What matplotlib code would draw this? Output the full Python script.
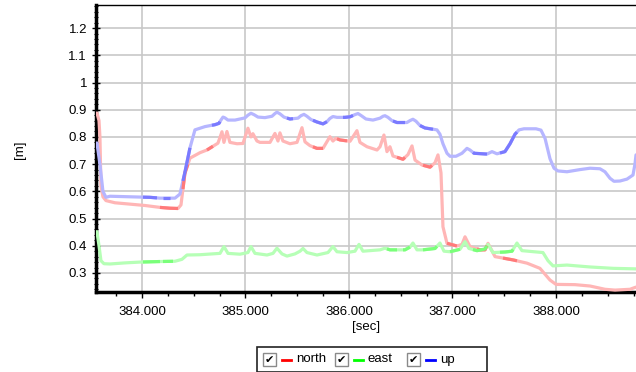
import matplotlib
matplotlib.use("Agg")
import numpy as np
import matplotlib.pyplot as plt
from matplotlib.ticker import MultipleLocator, FormatStrFormatter
from matplotlib.patches import Rectangle
from matplotlib.lines import Line2D

plt.rcParams['font.family'] = ['Liberation Sans', 'DejaVu Sans']

# ---- data (time [sec], value [m]) ----
north_t = [383.565, 383.585, 383.594, 383.604, 383.623, 383.652, 383.739, 383.884, 384.029, 384.174,
           384.271, 384.348, 384.377, 384.415, 384.464, 384.560, 384.628, 384.734, 384.773, 384.792,
           384.821, 384.850, 384.918, 384.976, 385.024, 385.053, 385.072, 385.111, 385.140, 385.237,
           385.285, 385.314, 385.333, 385.362, 385.430, 385.498, 385.546, 385.575, 385.623, 385.691,
           385.749, 385.816, 385.845, 385.874, 385.913, 386.010, 386.077, 386.106, 386.174, 386.271,
           386.300, 386.338, 386.367, 386.396, 386.425, 386.522, 386.570, 386.609, 386.638, 386.705,
           386.783, 386.831, 386.860, 386.889, 386.908, 386.947, 387.043, 387.092, 387.121, 387.169,
           387.266, 387.314, 387.343, 387.411, 387.585, 387.720, 387.845, 387.942, 388.000, 388.184,
           388.329, 388.473, 388.570, 388.715, 388.773]
north_v = [0.888, 0.860, 0.800, 0.620, 0.580, 0.566, 0.558, 0.553, 0.548, 0.541,
           0.538, 0.537, 0.550, 0.667, 0.722, 0.742, 0.752, 0.777, 0.819, 0.780,
           0.820, 0.780, 0.775, 0.776, 0.832, 0.800, 0.812, 0.785, 0.780, 0.780,
           0.813, 0.785, 0.815, 0.785, 0.775, 0.780, 0.834, 0.782, 0.768, 0.758,
           0.758, 0.801, 0.785, 0.795, 0.789, 0.784, 0.823, 0.780, 0.764, 0.752,
           0.764, 0.807, 0.746, 0.764, 0.730, 0.718, 0.735, 0.767, 0.715, 0.697,
           0.689, 0.705, 0.734, 0.668, 0.470, 0.409, 0.399, 0.405, 0.433, 0.397,
           0.385, 0.385, 0.409, 0.360, 0.348, 0.336, 0.317, 0.274, 0.258, 0.257,
           0.252, 0.240, 0.237, 0.240, 0.248]

east_t = [383.565, 383.585, 383.604, 383.633, 383.691, 383.836, 383.981, 384.174, 384.319, 384.386,
          384.435, 384.560, 384.754, 384.792, 384.831, 384.947, 385.024, 385.053, 385.092, 385.208,
          385.266, 385.304, 385.353, 385.401, 385.478, 385.527, 385.556, 385.594, 385.691, 385.797,
          385.845, 385.884, 385.981, 386.058, 386.097, 386.135, 386.300, 386.348, 386.396, 386.541,
          386.589, 386.618, 386.657, 386.715, 386.831, 386.879, 386.918, 386.976, 387.072, 387.121,
          387.159, 387.237, 387.314, 387.343, 387.391, 387.507, 387.575, 387.623, 387.671, 387.874,
          387.923, 387.971, 388.106, 388.329, 388.551, 388.773]
east_v = [0.452, 0.400, 0.345, 0.334, 0.333, 0.337, 0.340, 0.342, 0.343, 0.350,
          0.366, 0.367, 0.372, 0.397, 0.372, 0.369, 0.375, 0.397, 0.372, 0.366,
          0.372, 0.391, 0.370, 0.362, 0.370, 0.380, 0.390, 0.375, 0.366, 0.375,
          0.397, 0.378, 0.375, 0.380, 0.405, 0.380, 0.385, 0.391, 0.385, 0.385,
          0.395, 0.410, 0.385, 0.385, 0.390, 0.410, 0.380, 0.378, 0.387, 0.415,
          0.390, 0.382, 0.388, 0.405, 0.375, 0.377, 0.380, 0.410, 0.382, 0.375,
          0.345, 0.326, 0.329, 0.322, 0.317, 0.315]

up_t = [383.565, 383.594, 383.623, 383.652, 383.691, 383.884, 384.077, 384.174, 384.319, 384.367,
        384.415, 384.464, 384.512, 384.609, 384.705, 384.744, 384.763, 384.783, 384.802, 384.831,
        384.899, 384.995, 385.024, 385.053, 385.082, 385.121, 385.188, 385.256, 385.285, 385.304,
        385.333, 385.372, 385.430, 385.507, 385.536, 385.565, 385.594, 385.633, 385.691, 385.749,
        385.787, 385.816, 385.845, 385.884, 385.961, 386.010, 386.058, 386.087, 386.116, 386.164,
        386.232, 386.300, 386.329, 386.348, 386.377, 386.415, 386.464, 386.560, 386.589, 386.618,
        386.647, 386.686, 386.734, 386.850, 386.879, 386.908, 386.947, 386.976, 387.034, 387.092,
        387.140, 387.169, 387.208, 387.333, 387.382, 387.430, 387.507, 387.556, 387.604, 387.643,
        387.691, 387.807, 387.855, 387.894, 387.942, 387.981, 388.019, 388.106, 388.232, 388.329,
        388.425, 388.473, 388.522, 388.560, 388.618, 388.686, 388.744, 388.763, 388.773]
up_v = [0.778, 0.700, 0.600, 0.578, 0.582, 0.580, 0.578, 0.575, 0.575, 0.590,
        0.670, 0.760, 0.826, 0.838, 0.845, 0.850, 0.862, 0.873, 0.870, 0.862,
        0.862, 0.870, 0.880, 0.887, 0.882, 0.873, 0.871, 0.876, 0.886, 0.891,
        0.885, 0.873, 0.866, 0.869, 0.878, 0.883, 0.876, 0.864, 0.855, 0.848,
        0.856, 0.868, 0.875, 0.872, 0.872, 0.874, 0.882, 0.886, 0.879, 0.866,
        0.862, 0.869, 0.876, 0.878, 0.872, 0.860, 0.853, 0.853, 0.860, 0.865,
        0.858, 0.842, 0.833, 0.826, 0.810, 0.775, 0.740, 0.729, 0.729, 0.740,
        0.758, 0.752, 0.740, 0.737, 0.746, 0.738, 0.746, 0.775, 0.810, 0.826,
        0.830, 0.830, 0.825, 0.795, 0.720, 0.685, 0.675, 0.672, 0.680, 0.685,
        0.683, 0.672, 0.648, 0.637, 0.638, 0.645, 0.660, 0.700, 0.734]

# time spans where each trace is drawn in a stronger shade
north_dark = [(384.174, 384.348), (384.396, 384.444), (384.628, 384.686), (385.652, 385.749),
              (385.884, 385.981), (386.464, 386.541), (386.715, 386.802), (386.947, 387.043),
              (387.237, 387.333), (387.488, 387.623)]
east_dark = [(384.010, 384.174), (384.203, 384.300), (386.367, 386.464), (386.522, 386.589),
             (386.715, 386.850), (386.976, 387.072), (387.198, 387.333), (387.459, 387.585)]
up_dark = [(384.010, 384.145), (384.203, 384.271), (384.396, 384.464), (384.676, 384.754),
           (385.401, 385.459), (385.652, 385.787), (385.942, 386.039), (386.425, 386.541),
           (386.686, 386.812), (387.198, 387.333), (387.459, 387.623)]

series_names = ['north', 'east', 'up']
series_colors = ['#ff0000', '#00ff00', '#0000ff']
pale_colors = ['#ffb6b6', '#b6ffb6', '#b6b6ff']
dark_colors = ['#ff7a7a', '#7aff7a', '#7a7aff']

x_range = (383.556, 388.773)
y_range = (0.23, 1.285)

fig = plt.figure(figsize=(6.36, 3.72), dpi=100)
ax = fig.add_axes([96 / 636, 1 - 292 / 372, 1 - 96 / 636, 287 / 372])

data = [(north_t, north_v, north_dark), (east_t, east_v, east_dark), (up_t, up_v, up_dark)]
for (t, v, dark), c, dc in zip(data, pale_colors, dark_colors):
    ax.plot(t, v, color=c, lw=2.3, solid_joinstyle='round', solid_capstyle='round', zorder=3)
    for a, b in dark:
        mask = [(a <= ti <= b) for ti in t]
        tt = [a] + [ti for ti, m in zip(t, mask) if m] + [b]
        vv = list(np.interp(tt, t, v))
        ax.plot(tt, vv, color=dc, lw=2.3, solid_capstyle='butt', solid_joinstyle='round', zorder=4)

ax.set_xlim(*x_range)
ax.set_ylim(*y_range)
ax.xaxis.set_major_locator(MultipleLocator(1.0))
ax.xaxis.set_minor_locator(MultipleLocator(0.25))
ax.yaxis.set_major_locator(MultipleLocator(0.1))
ax.yaxis.set_minor_locator(MultipleLocator(0.02))
ax.xaxis.set_major_formatter(FormatStrFormatter('%.3f'))
ax.yaxis.set_major_formatter(plt.FuncFormatter(
    lambda v, p: '%d' % round(v) if abs(v - round(v)) < 1e-9 else '%.1f' % v))

ax.grid(True, which='major', color='#c8c8c8', lw=1.2, zorder=0)
ax.set_axisbelow(True)
ax.tick_params(axis='both', which='major', labelsize=9.5, colors='black', length=4, width=1)
ax.tick_params(axis='x', which='minor', length=3, width=1, direction='out')
ax.tick_params(axis='y', which='major', direction='inout', length=6)
ax.tick_params(axis='y', which='minor', direction='inout', length=3, width=0.8)
ax.tick_params(axis='x', which='major', pad=6)

for s in ['left', 'bottom']:
    ax.spines[s].set_linewidth(2.5)
ax.spines['top'].set_linewidth(1.0)
ax.spines['right'].set_visible(False)

ax.set_xlabel('[sec]', fontsize=9.5, labelpad=2)
fig.text(20 / 636, 1 - 150 / 372, '[m]', rotation=90, fontsize=9.5, ha='center', va='center')

# ---- checkbox legend below the plot ----
H = 372.0
W = 636.0
fig.patches.append(Rectangle((257 / W, 0), (487 - 257) / W, (372 - 347) / H,
                             transform=fig.transFigure, fill=False, edgecolor='#222222', lw=1.2))
box_x = [263, 335, 407]
label_x = [296, 368, 440]
for bx, lx, name, col in zip(box_x, label_x, series_names, series_colors):
    fig.patches.append(Rectangle((bx / W, 1 - 366 / H), 13 / W, 13 / H, transform=fig.transFigure,
                                 facecolor='white', edgecolor='#8a8a8a', lw=1.0))
    fig.text((bx + 6.5) / W, 1 - 359.5 / H, '✔', fontsize=8, ha='center', va='center',
             family=['DejaVu Sans'])
    fig.lines.append(Line2D([(bx + 19) / W, (bx + 28) / W], [1 - 359.5 / H] * 2,
                            transform=fig.transFigure, color=col, lw=2))
    fig.text(lx / W, 1 - 359.5 / H, name, fontsize=9.5, ha='left', va='center')

fig.savefig('out.png', dpi=100)
